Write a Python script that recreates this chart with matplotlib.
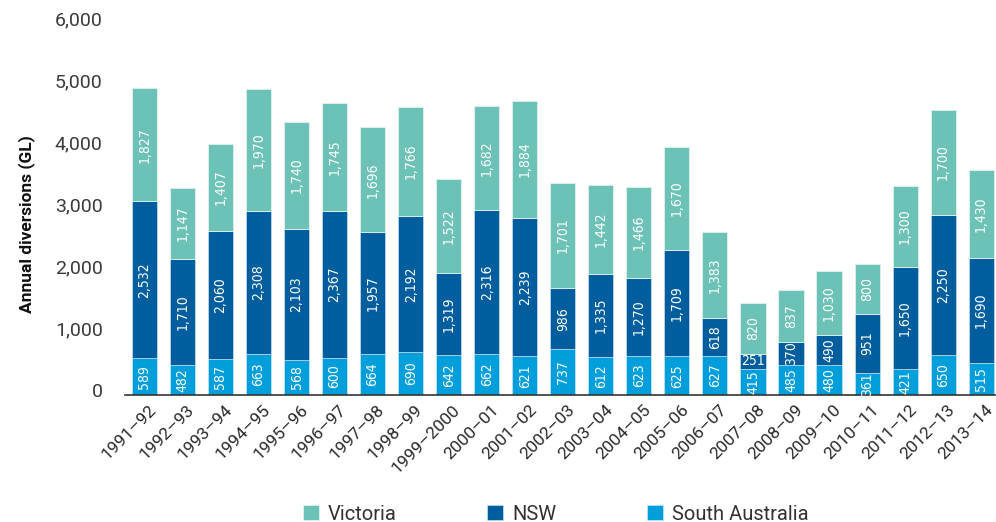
import matplotlib
matplotlib.use("Agg")
import matplotlib.pyplot as plt
import matplotlib.transforms as mtransforms
import numpy as np

years = ["1991–92", "1992–93", "1993–94", "1994–95", "1995–96", "1996–97", "1997–98",
         "1998–99", "1999–2000", "2000–01", "2001–02", "2002–03", "2003–04", "2004–05",
         "2005–06", "2006–07", "2007–08", "2008–09", "2009–10", "2010–11", "2011–12",
         "2012–13", "2013–14"]
south_australia = [589, 482, 587, 663, 568, 600, 664, 690, 642, 662, 621, 737, 612, 623,
                   625, 627, 415, 485, 480, 361, 421, 650, 515]
nsw = [2532, 1710, 2060, 2308, 2103, 2367, 1957, 2192, 1319, 2316, 2239, 986, 1335, 1270,
       1709, 618, 251, 370, 490, 951, 1650, 2250, 1690]
victoria = [1827, 1147, 1407, 1970, 1740, 1745, 1696, 1766, 1522, 1682, 1884, 1701, 1442,
            1466, 1670, 1383, 820, 837, 1030, 800, 1300, 1700, 1430]
yticks = [0, 1000, 2000, 3000, 4000, 5000, 6000]

C_VIC = "#6CC2B7"
C_NSW = "#005E9E"
C_SA = "#009EDB"

plt.rcParams['font.family'] = ['Roboto', 'DejaVu Sans']

fig = plt.figure(figsize=(9.96, 5.22), dpi=100)
ax = fig.add_axes([125/996, 1 - 395/522, 1 - 125/996, (395 - 23)/522])

x = np.arange(len(years))
sa = np.array(south_australia)
ns = np.array(nsw)
vi = np.array(victoria)
w = 0.66
b1 = ax.bar(x, sa, w, color=C_SA, edgecolor="#d8eef5", linewidth=0.4, label="South Australia", zorder=2)
b2 = ax.bar(x, ns, w, bottom=sa, color=C_NSW, edgecolor="#d8eef5", linewidth=0.4, label="NSW", zorder=2)
b3 = ax.bar(x, vi, w, bottom=sa + ns, color=C_VIC, edgecolor="#e0f3f0", linewidth=0.6, label="Victoria", zorder=2)

def lab(vals, bottoms):
    for xi, v, b in zip(x, vals, bottoms):
        rot = 90 if v >= 300 else 0
        ax.text(xi, b + v / 2, f"{v:,}", rotation=rot, ha="center", va="center",
                color="white", fontsize=10, fontstretch="condensed",
                family=["DejaVu Sans"], zorder=3)

lab(sa, np.zeros_like(sa))
lab(ns, sa)
lab(vi, sa + ns)

ax.set_xlim(-0.51, 22.39)
ax.set_ylim(0, 6000)
ax.set_yticks(yticks)
ax.set_yticklabels([f"{t:,}" for t in yticks])
ax.set_xticks(x)
ax.set_xticklabels(years, rotation=45, ha="right", rotation_mode="anchor")
ax.tick_params(axis="y", length=0, pad=16, labelsize=14, labelcolor="#3a3a3a")
ax.tick_params(axis="x", length=0, pad=5, labelsize=12.5, labelcolor="#2a2a2a")
for t in ax.get_xticklabels():
    t.set_transform(t.get_transform() + mtransforms.ScaledTranslation(0.04, 0, fig.dpi_scale_trans))
for t in ax.get_yticklabels():
    t.set_transform(t.get_transform() + mtransforms.ScaledTranslation(0, 0.05, fig.dpi_scale_trans))

for s in ["top", "right", "left"]:
    ax.spines[s].set_visible(False)
ax.spines["bottom"].set_color("#333333")
ax.spines["bottom"].set_linewidth(1.2)

ax.set_ylabel("Annual diversions (GL)", fontsize=12.5, fontweight="bold", color="#111111")
ax.yaxis.set_label_coords(-0.103, 0.46)

leg = fig.legend([b3, b2, b1], ["Victoria", "NSW", "South Australia"], loc="center",
                 bbox_to_anchor=(0.558, 1 - 514/522), ncol=3, frameon=False, fontsize=14.5,
                 handlelength=0.8, handleheight=0.8, columnspacing=4.5, handletextpad=0.45,
                 labelcolor="#333333", borderpad=0.2)

fig.savefig("out.png", dpi=100)
